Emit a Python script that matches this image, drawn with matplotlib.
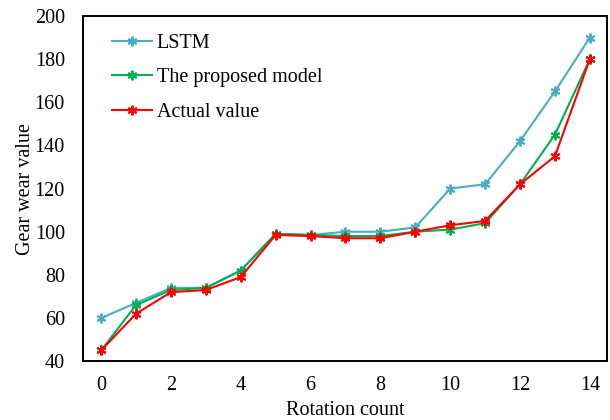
import matplotlib
matplotlib.use('Agg')
import matplotlib.pyplot as plt

plt.rcParams['font.family'] = 'Liberation Serif'

rotation = list(range(15))
lstm = [60, 67, 74, 74, 82, 99, 98.5, 100, 100, 102, 120, 122, 142, 165, 190]
proposed = [45, 66, 73, 74, 82, 99, 98.5, 98, 98, 100, 101, 104, 122, 145, 180]
actual = [45, 62, 72, 73, 79, 98.5, 98, 97, 97, 100, 103, 105, 122, 135, 180]

STAR = (6, 2, 0)

fig = plt.figure(figsize=(6.1, 4.2), dpi=100)
ax = fig.add_axes([0.136, 0.140, 0.859, 0.822])

ax.plot(rotation, lstm, color='#4BACC6', lw=1.5, marker=STAR, ms=7, mew=1.4, label='LSTM')
ax.plot(rotation, proposed, color='#00B050', lw=1.5, marker=STAR, ms=7, mew=1.4, label='The proposed model')
ax.plot(rotation, actual, color='#FF0000', lw=1.5, marker=STAR, ms=7, mew=1.4, label='Actual value')

ax.set_xlim(-0.52, 14.49)
ax.set_ylim(40, 200)
ax.set_xticks(range(0, 15, 2))
ax.set_yticks(range(40, 201, 20))
ax.tick_params(length=0, labelsize=14.5)
ax.tick_params(axis='y', pad=13)
ax.tick_params(axis='x', pad=11)
for s in ax.spines.values():
    s.set_linewidth(1.4)

ax.set_xlabel('Rotation count', fontsize=14.5, labelpad=4)
ax.set_ylabel('Gear wear value', fontsize=14.5, labelpad=0)

ax.legend(loc='upper left', frameon=False, fontsize=14.5, handlelength=2.0,
          handletextpad=0.25, labelspacing=0.75, bbox_to_anchor=(0.02, 1.0))

fig.savefig('out.png', dpi=100, facecolor='white')
